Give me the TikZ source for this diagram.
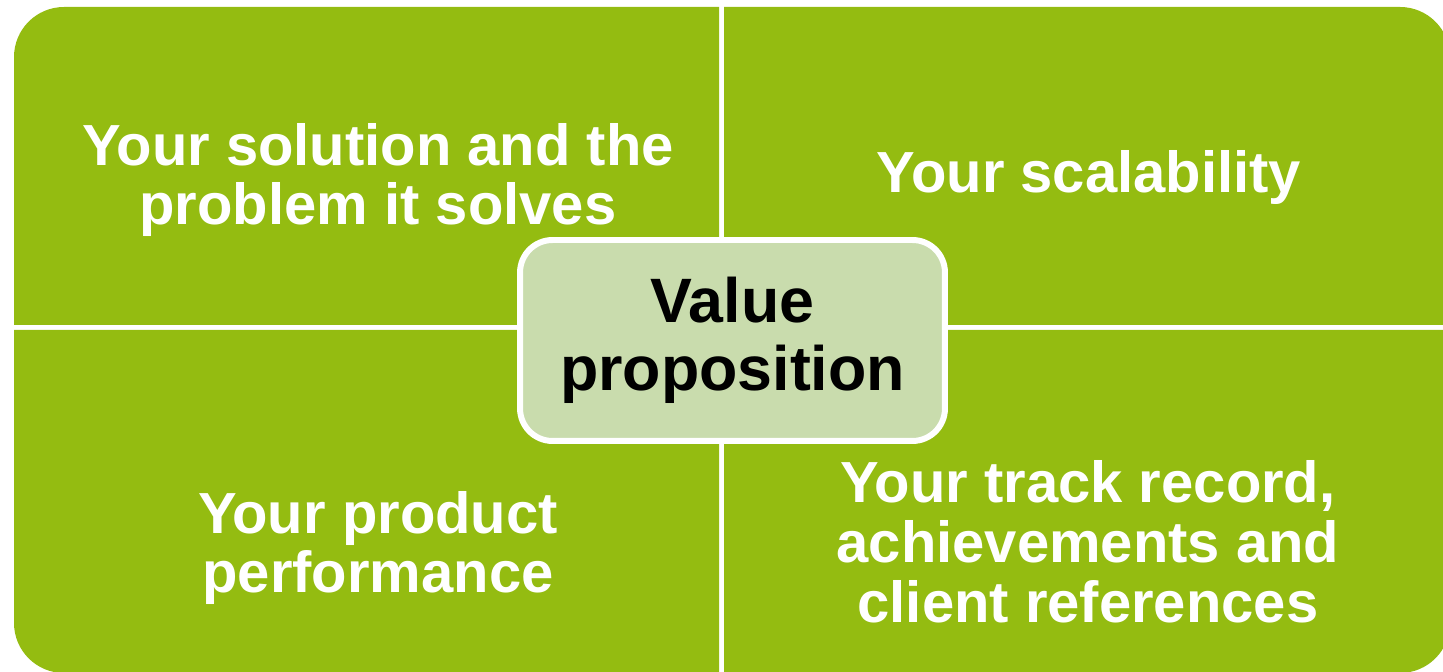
\documentclass[tikz,border=0pt]{standalone}
\usepackage{fontspec}
\setmainfont{Liberation Sans}
\definecolor{leaf}{HTML}{94BC11}
\definecolor{pale}{HTML}{C9DCAD}
\tikzset{
  quad/.style={fill=leaf},
  quadtxt/.style={text=white,font=\fontsize{33}{34}\selectfont\bfseries,align=center},
  core/.style={draw=white,line width=3.4pt,fill=pale,rounded corners=0.65cm,
    minimum width=8.5cm,minimum height=4.02cm,
    font=\fontsize{35.7}{38.5}\selectfont\bfseries,align=center}
}
\newcommand{\quadtext}[4]{\node[quadtxt] (#1) at (#2,#3) {#4};}

\begin{document}
\begin{tikzpicture}[x=0.02cm,y=0.02cm]
    \useasboundingbox (0,0) rectangle (1443,672);
    \clip (0,0) rectangle (1443,672);
    % four quadrants
    \fill[quad] (14,347) -- (14,615) arc (180:90:1cm) -- (719,665) -- (719,347) -- cycle;
    \fill[quad] (724,347) -- (724,665) -- (1400,665) arc (90:0:1cm) -- (1450,347) -- cycle;
    \fill[quad] (14,342) -- (14,49) arc (180:270:1cm) -- (719,-1) -- (719,342) -- cycle;
    \fill[quad] (724,342) -- (724,-1) -- (1400,-1) arc (270:360:1cm) -- (1450,342) -- cycle;
    \quadtext{solution}{378}{492}{Your solution and the\\problem it solves}
    \quadtext{scale}{1089}{494}{Your scalability}
    \quadtext{product}{378}{124}{Your product\\performance}
    \quadtext{record}{1088}{130}{Your track record,\\achievements and\\client references}
    % centre
    \node[core] (value) at (732.5,331.5) {Value\\proposition};
\end{tikzpicture}
\end{document}
